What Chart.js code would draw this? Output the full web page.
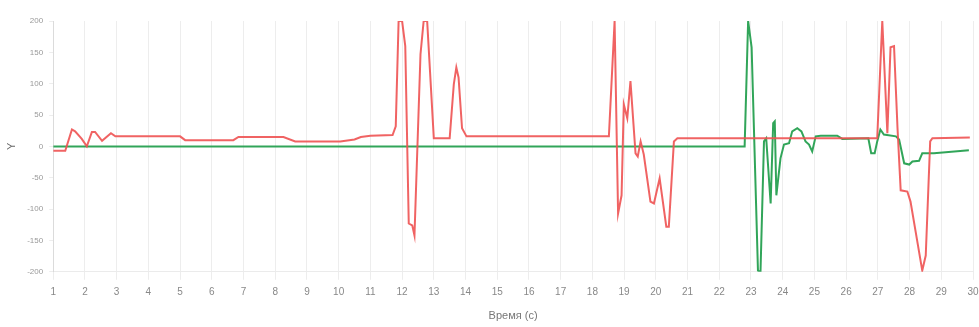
<!DOCTYPE html>
<html>
<head>
<meta charset="utf-8">
<script src="https://cdn.jsdelivr.net/npm/chart.js@4/dist/chart.umd.min.js"></script>
<style>
  html, body { margin: 0; padding: 0; background: #ffffff; }
  #wrap { width: 979px; height: 327px; position: relative; }
</style>
</head>
<body>
<div id="wrap"><canvas id="chart"></canvas></div>
<script>
// Time samples (s) and signal values for the red trace
const redTimes = [1.0, 1.38, 1.59, 1.69, 1.9, 2.06, 2.22, 2.32, 2.54, 2.82, 2.96, 5.0, 5.16, 6.68, 6.84, 8.26, 8.63, 10.05, 10.5, 10.7, 11.0, 11.7, 11.8, 11.89, 12.0, 12.1, 12.21, 12.32, 12.39, 12.58, 12.68, 12.79, 13.0, 13.5, 13.63, 13.71, 13.78, 13.89, 14.03, 18.52, 18.7, 18.81, 18.92, 18.99, 19.1, 19.2, 19.36, 19.43, 19.52, 19.62, 19.83, 19.94, 20.12, 20.33, 20.41, 20.57, 20.68, 26.98, 27.14, 27.3, 27.4, 27.51, 27.62, 27.72, 27.93, 28.03, 28.4, 28.51, 28.65, 28.72, 29.9];
const redValues = [-7, -7, 27, 24, 12, 0, 23, 23, 9, 21, 16, 16, 10, 10, 15, 15, 8, 8, 11, 15, 17, 18, 32, 200, 200, 160, -123, -126, -142, 147, 200, 200, 13, 13, 99, 126, 110, 29, 16, 16, 200, -107, -78, 67, 45, 104, -11, -16, 8, -13, -88, -91, -51, -128, -128, 8, 13, 13, 200, 21, 158, 160, 29, -70, -72, -88, -198, -174, 8, 13, 14];

// Time samples (s) and signal values for the green trace
const greenTimes = [1.0, 22.8, 22.91, 23.02, 23.22, 23.3, 23.41, 23.48, 23.62, 23.7, 23.75, 23.8, 23.93, 24.04, 24.2, 24.3, 24.46, 24.59, 24.72, 24.83, 24.93, 25.04, 25.2, 25.72, 25.88, 26.7, 26.79, 26.9, 26.98, 27.08, 27.19, 27.57, 27.67, 27.83, 27.99, 28.09, 28.3, 28.4, 28.77, 29.87];
const greenValues = [0, 0, 200, 158, -198, -200, 8, 13, -91, 37, 40, -78, -19, 3, 5, 24, 29, 24, 8, 3, -8, 16, 17, 17, 12, 13, -11, -11, 8, 27, 19, 16, 11, -27, -29, -24, -23, -11, -11, -6];

// Axis ticks
const xTicks = [1, 2, 3, 4, 5, 6, 7, 8, 9, 10, 11, 12, 13, 14, 15, 16, 17, 18, 19, 20, 21, 22, 23, 24, 25, 26, 27, 28, 29, 30];
const yTicks = [200, 150, 100, 50, 0, -50, -100, -150, -200];

const toPoints = (xs, ys) => xs.map((x, i) => ({ x: x, y: ys[i] }));

new Chart(document.getElementById('chart'), {
  type: 'line',
  data: {
    datasets: [
      {
        data: toPoints(redTimes, redValues),
        borderColor: 'rgba(238, 82, 82, 0.9)',
        borderWidth: 2,
        pointRadius: 0,
        tension: 0,
        fill: false
      },
      {
        data: toPoints(greenTimes, greenValues),
        borderColor: 'rgba(38, 160, 80, 0.95)',
        borderWidth: 2,
        pointRadius: 0,
        tension: 0,
        fill: false
      }
    ]
  },
  options: {
    responsive: true,
    maintainAspectRatio: false,
    animation: false,
    layout: { padding: { top: 21, right: 1, bottom: 4, left: 4 } },
    plugins: {
      legend: { display: false },
      tooltip: { enabled: false }
    },
    scales: {
      x: {
        type: 'linear',
        min: 1,
        max: 30,
        afterBuildTicks: (axis) => { axis.ticks = xTicks.map(v => ({ value: v })); },
        // keep only half of the last label as right-hand room
        afterFit: (axis) => { axis.paddingRight = 6; },
        ticks: {
          color: '#888',
          font: { family: 'Liberation Sans', size: 10 },
          padding: 6,
          maxRotation: 0,
          autoSkip: false
        },
        grid: {
          color: 'rgba(0,0,0,0.07)',
          tickLength: 8
        },
        border: { color: 'rgba(0,0,0,0.08)' },
        title: {
          display: true,
          text: 'Время (с)',
          color: '#777',
          font: { family: 'Liberation Sans', size: 11 },
          padding: { top: 6, bottom: 0 }
        }
      },
      y: {
        min: -200,
        max: 200,
        afterBuildTicks: (axis) => { axis.ticks = yTicks.map(v => ({ value: v })); },
        ticks: {
          color: '#999',
          font: { family: 'Liberation Sans', size: 8 },
          padding: 6
        },
        grid: {
          drawOnChartArea: false,
          color: 'rgba(0,0,0,0.07)',
          tickLength: 4
        },
        border: { color: 'rgba(0,0,0,0.08)' },
        title: {
          display: true,
          text: 'Y',
          color: '#666',
          font: { family: 'Liberation Sans', size: 11 },
          padding: { top: 1, bottom: 3 }
        }
      }
    }
  }
});
</script>
</body>
</html>
